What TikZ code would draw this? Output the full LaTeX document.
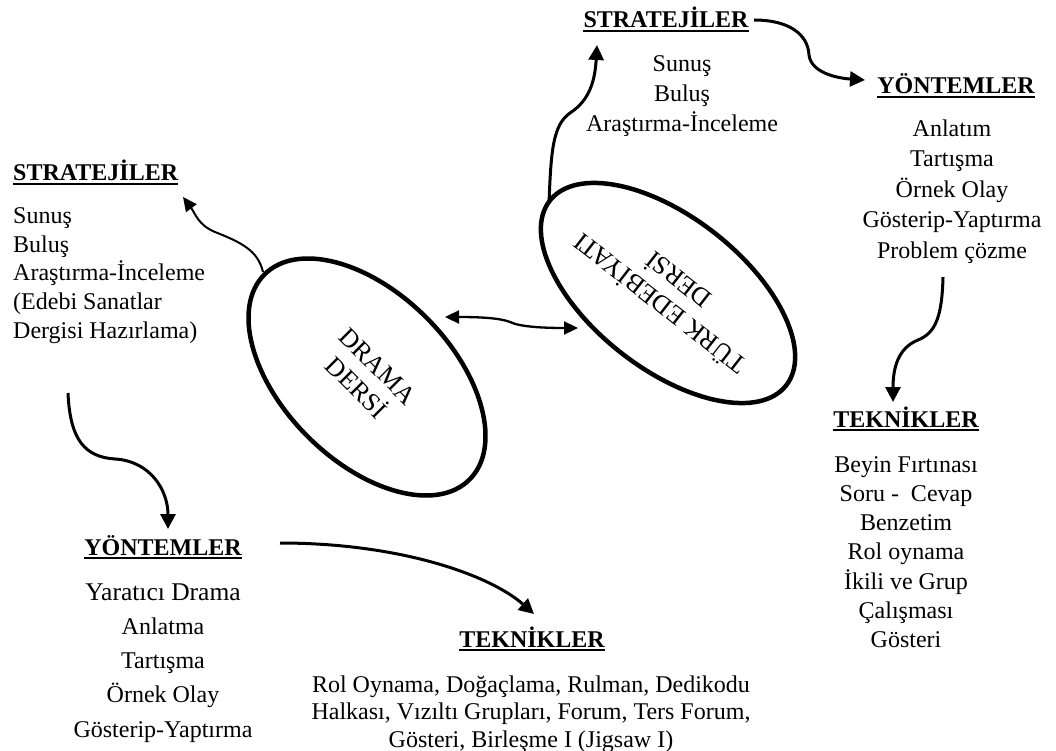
\documentclass[tikz,border=0pt]{standalone}
\usepackage{fontspec}
\setmainfont{Liberation Serif}
\usetikzlibrary{shapes.geometric,arrows.meta}
\begin{document}
\begin{tikzpicture}[x=1pt,y=1pt,
  hdr/.style={font=\fontsize{24}{30}\selectfont\bfseries, inner sep=0pt, anchor=base},
  lst/.style={inner sep=0pt, anchor=north, align=center},
  oval/.style={draw, ellipse, line width=4.5pt, inner sep=0pt, align=center, font=\fontsize{26}{30}\selectfont},
  conn/.style={line width=3pt, -{Triangle[length=15pt,width=15pt]}},
  thinconn/.style={line width=2pt, -{Triangle[length=14pt,width=13pt]}},
  dblconn/.style={line width=2.3pt, {Triangle[length=14pt,width=13pt]}-{Triangle[length=14pt,width=13pt]}},
  uline/.style={line width=2.3pt},
]
\useasboundingbox (0,0) rectangle (1056,-751);

% ellipses
\node[oval, rotate=-45, minimum width=290pt, minimum height=168pt] (drama) at (367,-377) {DRAMA\\DERSİ};
\node[oval, rotate=142, minimum width=300pt, minimum height=152pt] (turk) at (668,-293) {TÜRK EDEBİYATI\\DERSİ};

% top strategies
\node[hdr] (ts) at (666,-28) {STRATEJİLER};
\draw[uline] ([yshift=-3pt]ts.base west) -- ([yshift=-3pt]ts.base east);
\node[lst, font=\fontsize{24}{30}\selectfont] (tsl) at (682,-50) {\strut Sunuş\\Buluş\\Araştırma-İnceleme};

% left strategies
\node[hdr, anchor=base west] (ls) at (13,-181) {STRATEJİLER};
\draw[uline] ([yshift=-3pt]ls.base west) -- ([yshift=-3pt]ls.base east);
\node[lst, anchor=north west, align=left, font=\fontsize{24}{28.8}\selectfont] (lsl) at (13,-203) {\strut Sunuş\\Buluş\\Araştırma-İnceleme\\(Edebi Sanatlar\\Dergisi Hazırlama)};

% right methods
\node[hdr] (ry) at (956,-94) {YÖNTEMLER};
\draw[uline] ([yshift=-3pt]ry.base west) -- ([yshift=-3pt]ry.base east);
\node[lst, font=\fontsize{24}{30.5}\selectfont] (ryl) at (952,-114.6) {\strut Anlatım\\Tartışma\\Örnek Olay\\Gösterip-Yaptırma\\Problem çözme};

% right techniques
\node[hdr] (rt) at (906,-427) {TEKNİKLER};
\draw[uline] ([yshift=-3pt]rt.base west) -- ([yshift=-3pt]rt.base east);
\node[lst, font=\fontsize{24}{29.2}\selectfont] (rtl) at (906,-451.6) {\strut Beyin Fırtınası\\Soru - \ Cevap\\Benzetim\\Rol oynama\\İkili ve Grup\\Çalışması\\Gösteri};

% bottom-left methods
\node[hdr] (ly) at (163,-555) {YÖNTEMLER};
\draw[uline] ([yshift=-3pt]ly.base west) -- ([yshift=-3pt]ly.base east);
\node[lst, font=\fontsize{24}{34.25}\selectfont] (lyl) at (163,-576) {\strut{\fontsize{25.5}{34.25}\selectfont Yaratıcı Drama}\\Anlatma\\Tartışma\\Örnek Olay\\Gösterip-Yaptırma};

% bottom techniques
\node[hdr] (bt) at (532,-647) {TEKNİKLER};
\draw[uline] ([yshift=-3pt]bt.base west) -- ([yshift=-3pt]bt.base east);
\node[lst, font=\fontsize{24}{27.5}\selectfont] (btl) at (531,-672.75) {\strut Rol Oynama, Doğaçlama, Rulman, Dedikodu\\Halkası, Vızıltı Grupları, Forum, Ters Forum,\\Gösteri, Birleşme I (Jigsaw I)};

% connector end points
\coordinate (a0) at (263,-272); \coordinate (a1) at (183,-197);
\coordinate (b0) at (549,-203); \coordinate (b1) at (597,-45);
\coordinate (c0) at (754,-20);  \coordinate (c1) at (865,-80);
\coordinate (d0) at (943,-277); \coordinate (d1) at (893,-402);
\coordinate (e0) at (68,-393);  \coordinate (e1) at (168,-529);
\coordinate (f0) at (280,-543); \coordinate (f1) at (534,-614);
\coordinate (g0) at (445,-317); \coordinate (g1) at (578,-328);

\draw[thinconn] (a0) .. controls (258,-250) and (240,-242) .. (215,-232) .. controls (198,-225) and (195,-213) .. (a1);
\draw[conn] (b0) .. controls (551,-150) and (553,-125) .. (570,-113) .. controls (590,-100) and (595,-80) .. (b1);
\draw[conn] (c0) .. controls (790,-20) and (808,-35) .. (809,-55) .. controls (811,-72) and (835,-78) .. (c1);
\draw[conn] (d0) .. controls (942,-318) and (935,-333) .. (918,-340) .. controls (898,-348) and (893,-368) .. (d1);
\draw[conn] (e0) .. controls (70,-440) and (85,-457) .. (115,-459) .. controls (150,-461) and (168,-490) .. (e1);
\draw[conn] (f0) .. controls (400,-543) and (490,-575) .. (f1);
\draw[dblconn] (g0) .. controls (480,-317) and (500,-318) .. (510,-322) .. controls (520,-327) and (545,-328) .. (g1);
\end{tikzpicture}
\end{document}
